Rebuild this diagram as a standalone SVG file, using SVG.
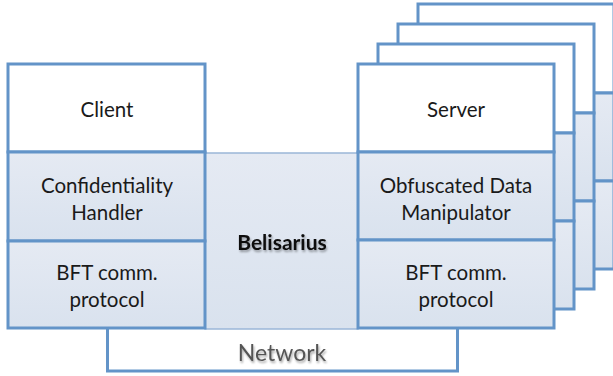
<svg xmlns="http://www.w3.org/2000/svg" width="613" height="376" viewBox="0 0 613 376">
<defs>
<linearGradient id="g" x1="0" y1="0" x2="0" y2="1">
<stop offset="0" stop-color="#e5eaf3"/>
<stop offset="1" stop-color="#d9e2ee"/>
</linearGradient>
<filter id="ts" x="-10%" y="-30%" width="120%" height="160%">
<feGaussianBlur in="SourceAlpha" stdDeviation="1.2"/>
<feOffset dx="1" dy="2" result="b"/>
<feComponentTransfer><feFuncA type="linear" slope="0.35"/></feComponentTransfer>
<feMerge><feMergeNode/><feMergeNode in="SourceGraphic"/></feMerge>
</filter>
</defs>
<style>
.box{stroke:#6394c8;stroke-width:3;}
.top{fill:#ffffff;}
.low{fill:url(#g);}
.t{font-family:Lato,"Open Sans",sans-serif;font-size:20.5px;fill:#1a1a1a;text-anchor:middle;}
.net{font-family:Lato,"Open Sans",sans-serif;font-size:23px;fill:#555555;text-anchor:middle;}
.bel{font-family:Lato,"Open Sans",sans-serif;font-size:21px;font-weight:bold;fill:#111;text-anchor:middle;}
</style>
<g id="network">
<rect class="box top" x="107.5" y="320" width="350" height="51"/>
<text class="net" x="282" y="361" filter="url(#ts)">Network</text>
</g>
<g id="belisarius">
<rect x="205" y="153" width="153" height="176" fill="url(#g)" stroke="#9ab6d8" stroke-width="1.5"/>
<text class="bel" x="282" y="250" filter="url(#ts)">Belisarius</text>
</g>
<g id="server4">
<rect class="box top" x="418" y="4" width="196" height="89"/>
<rect class="box low" x="418" y="93" width="196" height="88"/>
<rect class="box low" x="418" y="181" width="196" height="88"/>
</g>
<g id="server3">
<rect class="box top" x="398" y="24" width="196" height="89"/>
<rect class="box low" x="398" y="113" width="196" height="88"/>
<rect class="box low" x="398" y="201" width="196" height="88"/>
</g>
<g id="server2">
<rect class="box top" x="378" y="44" width="196" height="89"/>
<rect class="box low" x="378" y="133" width="196" height="88"/>
<rect class="box low" x="378" y="221" width="196" height="88"/>
</g>
<g id="server">
<rect class="box top" x="358" y="64" width="196" height="88"/>
<rect class="box low" x="358" y="152" width="196" height="88"/>
<rect class="box low" x="358" y="240" width="196" height="88"/>
<text class="t" x="456" y="117">Server</text>
<text class="t" x="456" y="193">Obfuscated Data</text>
<text class="t" x="456" y="220">Manipulator</text>
<text class="t" x="456" y="280">BFT comm.</text>
<text class="t" x="456" y="307">protocol</text>
</g>
<g id="client">
<rect class="box top" x="8" y="64" width="197" height="88"/>
<rect class="box low" x="8" y="152" width="197" height="89"/>
<rect class="box low" x="8" y="241" width="197" height="87"/>
<text class="t" x="107" y="117">Client</text>
<text class="t" x="107" y="193">Confidentiality</text>
<text class="t" x="107" y="220">Handler</text>
<text class="t" x="107" y="280">BFT comm.</text>
<text class="t" x="107" y="307">protocol</text>
</g>
<g id="connectors"/>
</svg>
